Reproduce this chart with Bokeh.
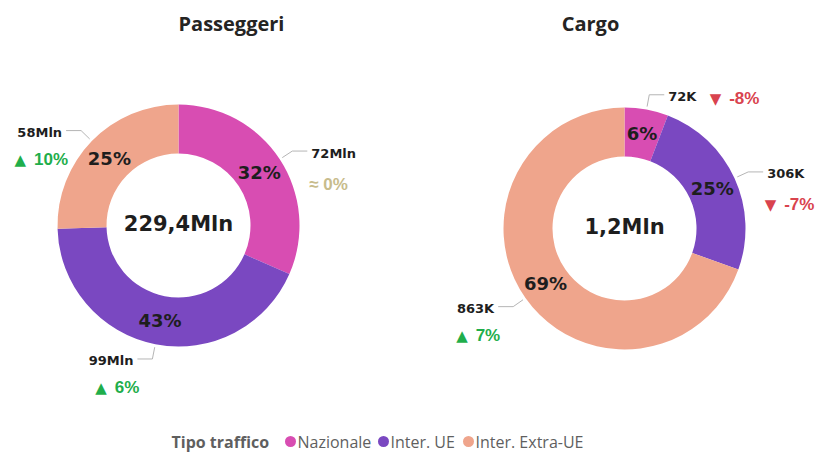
import math
from bokeh.plotting import figure
from bokeh.models import Range1d, ColumnDataSource
from bokeh.embed import file_html
from bokeh.resources import INLINE
from bokeh.core.properties import value

# ---------------- data ----------------
categories = ["Nazionale", "Inter. UE", "Inter. Extra-UE"]
pax_values = [72.4, 98.7, 58.3]        # milioni di passeggeri
pax_delta = [0, 6, 10]                 # variazione %
cargo_values = [72.4, 306.4, 862.6]    # migliaia di tonnellate
cargo_delta = [-8, -7, 7]              # variazione %
titles = ["Passeggeri", "Cargo"]
legend_title = "Tipo traffico"

# ---------------- style / layout ----------------
colors = ["#D84DB2", "#7A48C1", "#EFA58C"]
GREEN, RED, TAN, INK, GREY = "#1FAE4B", "#D9434E", "#C8BC8C", "#1E1E1E", "#5F5F5F"
W, H = 820, 454
R_OUT, R_IN = 121, 72
NUM_FONT = value("DejaVu Sans")
UI_FONT = value("Open Sans")
DELTA_FONT = value("Liberation Sans")
DELTA_SIZE = 17
TRI_W, TRI_GAP = 12, 7

# approximate advance widths (em) of Liberation Sans Bold
_ADV = {**{c: 0.556 for c in "0123456789"}, "%": 0.889, "-": 0.333, " ": 0.278}


def text_w(s, size):
    return sum(_ADV.get(c, 0.6) for c in s) * size


def X(rx):
    return rx


def Y(ry):
    return H - ry


p = figure(width=W, height=H, x_range=Range1d(0, W), y_range=Range1d(0, H),
           output_backend="svg", toolbar_location=None, min_border=0)
p.axis.visible = False
p.grid.visible = False
p.outline_line_color = None
p.background_fill_color = "white"
p.border_fill_color = "white"


def draw_delta(x, y, d, align):
    """align='left': x is the left edge; align='right': x is the right edge."""
    if d == 0:
        p.text(x=[x], y=[y], text=["\u2248 0%"], text_font=DELTA_FONT, text_font_style="bold",
               text_font_size=f"{DELTA_SIZE}px", text_color=TAN, text_align=align,
               text_baseline="middle")
        return
    num = f"{d}%"
    tri = "\u25B2" if d > 0 else "\u25BC"
    col = GREEN if d > 0 else RED
    if align == "left":
        tri_x = x
    else:
        tri_x = x - text_w(num, DELTA_SIZE) - TRI_GAP - TRI_W
    p.text(x=[tri_x - 0.5], y=[y], text=[tri], text_font=NUM_FONT,
           text_font_size="15px", text_color=col, text_align="left", text_baseline="middle")
    p.text(x=[tri_x + TRI_W + TRI_GAP], y=[y], text=[num], text_font=DELTA_FONT,
           text_font_style="bold", text_font_size=f"{DELTA_SIZE}px", text_color=col,
           text_align="left", text_baseline="middle")


def donut(cx, cy, vals, unit, total_text, deltas, delta_side):
    total = sum(vals)
    fr = [v / total for v in vals]
    starts, ends, mids = [], [], []
    cum = 0.0
    for f in fr:
        starts.append(math.pi / 2 - (cum + f) * 2 * math.pi)
        ends.append(math.pi / 2 - cum * 2 * math.pi)
        mids.append(math.pi / 2 - (cum + f / 2) * 2 * math.pi)
        cum += f
    x0, y0 = X(cx), Y(cy)
    src = ColumnDataSource(dict(start=starts, end=ends, color=colors))
    p.annular_wedge(x=x0, y=y0, inner_radius=R_IN, outer_radius=R_OUT,
                    start_angle="start", end_angle="end", fill_color="color",
                    line_color=None, source=src)
    rm = (R_IN + R_OUT) / 2
    pct = [f"{round(f * 100)}%" for f in fr]
    p.text(x=[x0 + rm * math.cos(a) for a in mids], y=[y0 + rm * math.sin(a) for a in mids],
           text=pct, text_font=NUM_FONT, text_font_style="bold", text_font_size="18px",
           text_color=INK, text_align="center", text_baseline="middle")
    p.text(x=[x0], y=[y0 + 2], text=[total_text], text_font=NUM_FONT, text_font_style="bold",
           text_font_size="21px", text_color=INK, text_align="center", text_baseline="middle")
    for v, a, d, side in zip(vals, mids, deltas, delta_side):
        ax, ay = x0 + (R_OUT + 3) * math.cos(a), y0 + (R_OUT + 3) * math.sin(a)
        bx, by = x0 + (R_OUT + 15) * math.cos(a), y0 + (R_OUT + 15) * math.sin(a)
        sgn = 1 if math.cos(a) > 0 else -1
        ex = bx + sgn * 15
        p.line(x=[ax, bx, ex], y=[ay, by, by], line_color="#B5B5B5", line_width=1)
        lab = f"{round(v)}{unit}"
        tx = ex + sgn * 4
        ty = by - 2
        p.text(x=[tx], y=[ty], text=[lab], text_font=NUM_FONT, text_font_style="bold",
               text_font_size="13px", text_color=INK,
               text_align="left" if sgn > 0 else "right", text_baseline="middle")
        if side == "right":
            draw_delta(tx + 0.69 * 13 * len(lab) + 15, ty - 2, d, "left")
        elif sgn > 0:
            draw_delta(tx - 2, ty - 31, d, "left")
        else:
            draw_delta(tx + 6, ty - 27, d, "right")


donut(178, 225, pax_values, "Mln",
      f"{sum(pax_values):.1f}".replace(".", ",") + "Mln",
      pax_delta, ["below", "below", "below"])
donut(624, 228, cargo_values, "K",
      f"{sum(cargo_values) / 1000:.1f}".replace(".", ",") + "Mln",
      cargo_delta, ["right", "below", "below"])

# titles
TITLE_POS = [(231, 23), (590, 23)]
p.text(x=[X(t[0]) for t in TITLE_POS], y=[Y(t[1]) for t in TITLE_POS], text=titles,
       text_font=UI_FONT, text_font_style="bold", text_font_size="20px",
       text_color="#252423", text_align="center", text_baseline="middle")

# legend
LEG_Y = 441
LEG_X = [290, 383, 468]
p.text(x=[X(171)], y=[Y(LEG_Y)], text=[legend_title], text_font=UI_FONT,
       text_font_style="bold", text_font_size="16px", text_color=GREY,
       text_align="left", text_baseline="middle")
p.scatter(x=[X(lx) for lx in LEG_X], y=[Y(LEG_Y)] * 3, size=11, marker="circle",
          fill_color=colors, line_color=None)
p.text(x=[X(lx + 7) for lx in LEG_X], y=[Y(LEG_Y)] * 3, text=categories, text_font=UI_FONT,
       text_font_size="16px", text_color=GREY, text_align="left", text_baseline="middle")

open("out.html", "w").write(file_html(p, INLINE))
